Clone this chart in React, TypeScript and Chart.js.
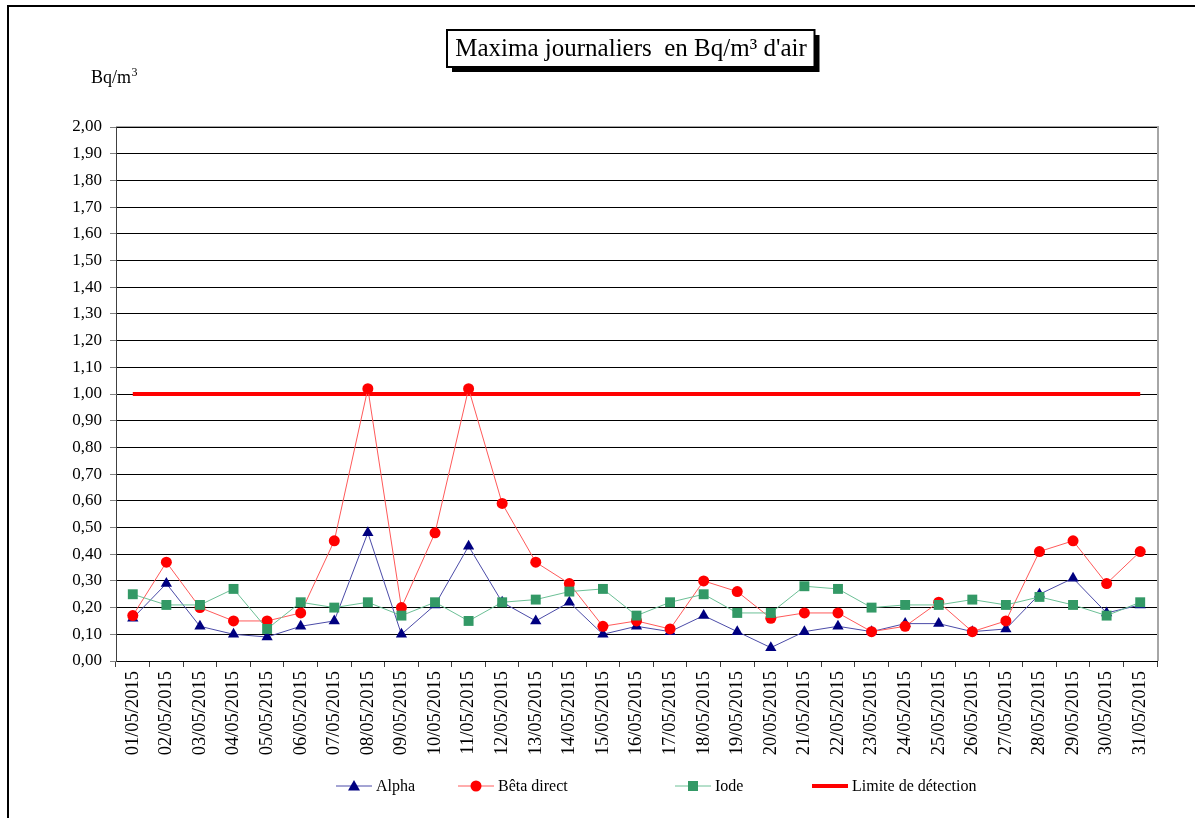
import React, { useEffect, useRef } from 'react';
import { Chart, registerables } from 'chart.js';

Chart.register(...registerables);

const dates = [
  '01/05/2015', '02/05/2015', '03/05/2015', '04/05/2015', '05/05/2015', '06/05/2015', '07/05/2015',
  '08/05/2015', '09/05/2015', '10/05/2015', '11/05/2015', '12/05/2015', '13/05/2015', '14/05/2015',
  '15/05/2015', '16/05/2015', '17/05/2015', '18/05/2015', '19/05/2015', '20/05/2015', '21/05/2015',
  '22/05/2015', '23/05/2015', '24/05/2015', '25/05/2015', '26/05/2015', '27/05/2015', '28/05/2015',
  '29/05/2015', '30/05/2015', '31/05/2015',
];

const alpha = [
  0.16, 0.29, 0.13, 0.10, 0.09, 0.13, 0.15, 0.48, 0.10, 0.21, 0.43, 0.22, 0.15, 0.22, 0.10, 0.13,
  0.11, 0.17, 0.11, 0.05, 0.11, 0.13, 0.11, 0.14, 0.14, 0.11, 0.12, 0.25, 0.31, 0.18, 0.21,
];

const betaDirect = [
  0.17, 0.37, 0.20, 0.15, 0.15, 0.18, 0.45, 1.02, 0.20, 0.48, 1.02, 0.59, 0.37, 0.29, 0.13, 0.15,
  0.12, 0.30, 0.26, 0.16, 0.18, 0.18, 0.11, 0.13, 0.22, 0.11, 0.15, 0.41, 0.45, 0.29, 0.41,
];

const iode = [
  0.25, 0.21, 0.21, 0.27, 0.12, 0.22, 0.20, 0.22, 0.17, 0.22, 0.15, 0.22, 0.23, 0.26, 0.27, 0.17,
  0.22, 0.25, 0.18, 0.18, 0.28, 0.27, 0.20, 0.21, 0.21, 0.23, 0.21, 0.24, 0.21, 0.17, 0.22,
];

const limiteDetection = [
  1.0, 1.0, 1.0, 1.0, 1.0, 1.0, 1.0, 1.0, 1.0, 1.0, 1.0, 1.0, 1.0, 1.0, 1.0, 1.0,
  1.0, 1.0, 1.0, 1.0, 1.0, 1.0, 1.0, 1.0, 1.0, 1.0, 1.0, 1.0, 1.0, 1.0, 1.0,
];

const seriesNames = ['Alpha', 'Bêta direct', 'Iode', 'Limite de détection'];
const titleText = "Maxima journaliers  en Bq/m³ d'air";
const yUnit = 'Bq/m';
const yUnitSup = '3';

const SERIF = '"Liberation Serif", "Times New Roman", serif';

const COLORS = {
  alphaLine: '#4b4ba8',
  alphaPoint: '#000080',
  betaLine: '#ff5a5a',
  betaPoint: '#ff0000',
  iodeLine: '#6cc096',
  iodePoint: '#339966',
  limite: '#ff0000',
};

function drawMarker(ctx: CanvasRenderingContext2D, kind: string, x: number, y: number, color: string) {
  ctx.save();
  ctx.fillStyle = color;
  ctx.beginPath();
  if (kind === 'triangle') {
    ctx.moveTo(x, y - 6);
    ctx.lineTo(x + 6, y + 4.5);
    ctx.lineTo(x - 6, y + 4.5);
    ctx.closePath();
  } else if (kind === 'circle') {
    ctx.arc(x, y, 5.5, 0, Math.PI * 2);
  } else if (kind === 'rect') {
    ctx.rect(x - 5, y - 5, 10, 10);
  }
  ctx.fill();
  ctx.restore();
}

const decorPlugin = {
  id: 'decor',
  beforeDraw(chart: any) {
    const ctx = chart.ctx as CanvasRenderingContext2D;
    ctx.save();
    ctx.fillStyle = '#ffffff';
    ctx.fillRect(0, 0, chart.width, chart.height);
    ctx.restore();
  },
  afterDraw(chart: any) {
    const ctx = chart.ctx as CanvasRenderingContext2D;
    const area = chart.chartArea;
    ctx.save();

    // outer frame
    ctx.fillStyle = '#000';
    ctx.fillRect(7, 5, chart.width - 7, 2);
    ctx.fillRect(7, 5, 2, chart.height - 5);

    // plot frame top & right (gray)
    ctx.fillStyle = '#a6a6a6';
    ctx.fillRect(area.left, area.top - 1, area.right - area.left + 1, 1);
    ctx.fillRect(area.right, area.top - 1, 2, area.bottom - area.top + 1);

    // title box
    ctx.font = `25px ${SERIF}`;
    const tw = ctx.measureText(titleText).width;
    const cx = 631;
    const bw = tw + 16;
    const bx = Math.round(cx - bw / 2);
    const by = 30;
    const bh = 37;
    ctx.fillStyle = '#000';
    ctx.fillRect(bx + 5, by + 5, bw, bh);
    ctx.fillStyle = '#fff';
    ctx.fillRect(bx, by, bw, bh);
    ctx.strokeStyle = '#000';
    ctx.lineWidth = 2;
    ctx.strokeRect(bx, by, bw, bh);
    ctx.fillStyle = '#000';
    ctx.textAlign = 'center';
    ctx.textBaseline = 'middle';
    ctx.fillText(titleText, cx, by + bh / 2 + 1);

    // y unit
    ctx.textAlign = 'left';
    ctx.textBaseline = 'alphabetic';
    ctx.font = `18px ${SERIF}`;
    ctx.fillText(yUnit, 91, 83);
    const uw = ctx.measureText(yUnit).width;
    ctx.font = `12px ${SERIF}`;
    ctx.fillText(yUnitSup, 91 + uw + 0.5, 76);

    // legend
    const ly = 786;
    const items = [
      { x: 336, line: COLORS.alphaLine, marker: 'triangle', mc: COLORS.alphaPoint, lw: 1 },
      { x: 458, line: COLORS.betaLine, marker: 'circle', mc: COLORS.betaPoint, lw: 1 },
      { x: 675, line: COLORS.iodeLine, marker: 'rect', mc: COLORS.iodePoint, lw: 1 },
      { x: 812, line: COLORS.limite, marker: '', mc: '', lw: 4 },
    ];
    ctx.font = `16px ${SERIF}`;
    ctx.textBaseline = 'middle';
    items.forEach((it, i) => {
      ctx.strokeStyle = it.line;
      ctx.lineWidth = it.lw;
      ctx.beginPath();
      ctx.moveTo(it.x, ly);
      ctx.lineTo(it.x + 36, ly);
      ctx.stroke();
      if (it.marker) drawMarker(ctx, it.marker, it.x + 18, ly, it.mc);
      ctx.fillStyle = '#000';
      ctx.fillText(seriesNames[i], it.x + 40, ly + 1);
    });

    ctx.restore();
  },
};

export default function App() {
  const ref = useRef<HTMLCanvasElement | null>(null);

  useEffect(() => {
    if (!ref.current) return;
    const chart = new Chart(ref.current, {
      type: 'line',
      data: {
        labels: dates,
        datasets: [
          {
            label: seriesNames[0],
            data: alpha,
            borderColor: COLORS.alphaLine,
            borderWidth: 1,
            pointStyle: 'triangle',
            pointRadius: 6.5,
            pointBackgroundColor: COLORS.alphaPoint,
            pointBorderColor: COLORS.alphaPoint,
            pointBorderWidth: 0,
            tension: 0,
            order: 2,
          },
          {
            label: seriesNames[1],
            data: betaDirect,
            borderColor: COLORS.betaLine,
            borderWidth: 1,
            pointStyle: 'circle',
            pointRadius: 5.5,
            pointBackgroundColor: COLORS.betaPoint,
            pointBorderColor: COLORS.betaPoint,
            pointBorderWidth: 0,
            tension: 0,
            order: 1,
          },
          {
            label: seriesNames[2],
            data: iode,
            borderColor: COLORS.iodeLine,
            borderWidth: 1,
            pointStyle: 'rect',
            pointRadius: 7,
            pointBackgroundColor: COLORS.iodePoint,
            pointBorderColor: COLORS.iodePoint,
            pointBorderWidth: 0,
            tension: 0,
            order: 0,
          },
          {
            label: seriesNames[3],
            data: limiteDetection,
            borderColor: COLORS.limite,
            borderWidth: 4,
            pointRadius: 0,
            tension: 0,
            order: 3,
          },
        ],
      },
      options: {
        responsive: false,
        animation: false,
        devicePixelRatio: 1,
        layout: { padding: { left: 0, top: 127, right: 38, bottom: 57 } },
        plugins: {
          legend: { display: false },
          title: { display: false },
          tooltip: { enabled: false },
        },
        scales: {
          x: {
            type: 'category',
            offset: true,
            afterFit: (scale: any) => { scale.height = 100; },
            grid: {
              display: true,
              drawOnChartArea: false,
              offset: true,
              tickLength: 6,
              color: '#404040',
            },
            border: { color: '#000', width: 1 },
            ticks: {
              autoSkip: false,
              minRotation: 90,
              maxRotation: 90,
              padding: 4,
              color: '#000',
              font: { family: SERIF, size: 18.5 },
            },
          },
          y: {
            min: 0,
            max: 2,
            afterFit: (scale: any) => { scale.width = 116; },
            ticks: {
              stepSize: 0.1,
              padding: 8,
              color: '#000',
              font: { family: SERIF, size: 17 },
              callback: (v: any) => Number(v).toFixed(2).replace('.', ','),
            },
            grid: {
              color: '#000',
              tickLength: 6,
              tickColor: '#808080',
            },
            border: { color: '#404040', width: 1 },
          },
        },
      },
      plugins: [decorPlugin],
    });
    return () => chart.destroy();
  }, []);

  return (
    <div style={{ position: 'absolute', left: 0, top: 0, width: 1195, height: 818, overflow: 'hidden', background: '#fff' }}>
      <canvas ref={ref} width={1195} height={818} style={{ display: 'block', width: 1195, height: 818 }} />
    </div>
  );
}
